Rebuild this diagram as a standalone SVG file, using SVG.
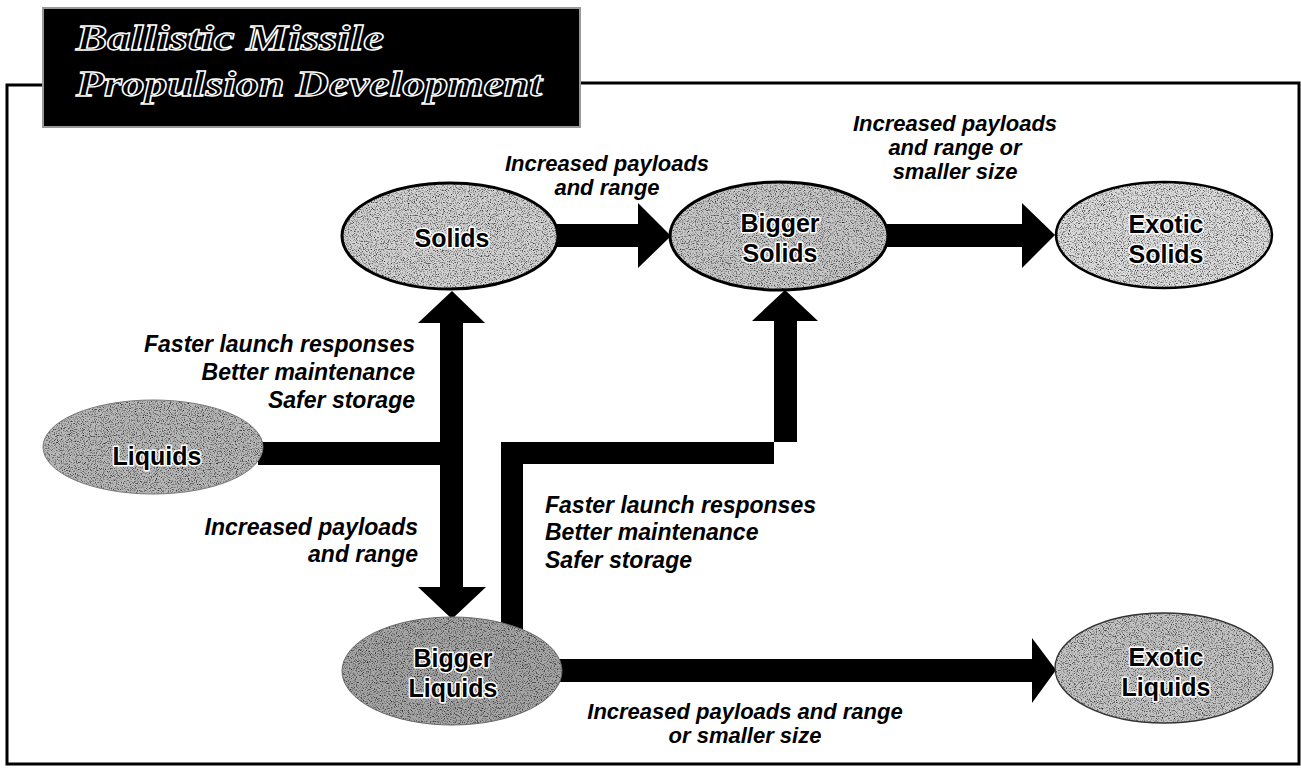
<svg xmlns="http://www.w3.org/2000/svg" width="1301" height="778" viewBox="0 0 1301 778">
<defs>
<filter id="grain" x="0" y="0" width="100%" height="100%" color-interpolation-filters="sRGB">
<feTurbulence type="fractalNoise" baseFrequency="0.85" numOctaves="2" seed="7" result="n"/>
<feColorMatrix in="n" type="matrix" values="2.2 0 0 0 -0.15  2.2 0 0 0 -0.15  2.2 0 0 0 -0.15  0 0 0 0 1" result="gn"/>
<feBlend in="SourceGraphic" in2="gn" mode="multiply" result="m"/>
<feComposite in="m" in2="SourceGraphic" operator="in"/>
</filter>
</defs>
<style>
.lbl{font-family:"Liberation Sans",Arial,sans-serif;font-weight:bold;font-style:italic;font-size:23px;fill:#000}
.lbs{font-family:"Liberation Sans",Arial,sans-serif;font-weight:bold;font-style:italic;font-size:22px;fill:#000}
.nt{font-family:"Liberation Sans",Arial,sans-serif;font-weight:bold;font-size:25px;fill:#000;stroke:#fff;stroke-width:3px;paint-order:stroke;stroke-linejoin:round;text-anchor:middle}
.title{font-family:"Liberation Serif","Times New Roman",serif;font-weight:bold;font-style:italic;font-size:36px;fill:#000;stroke:#fff;stroke-width:1.3px}
.conn{fill:#000;stroke:none}
.frame{fill:none;stroke:#000;stroke-width:3}
</style>
<rect width="1301" height="778" fill="#fff"/>
<path class="frame" d="M43,85 L7,85 L7,764 L1299,764 L1299,83 L580,83"/>
<g id="title">
<rect x="43" y="8" width="537" height="119" fill="#000" stroke="#999" stroke-width="2"/>
<text class="title" x="76" y="50" textLength="308" lengthAdjust="spacingAndGlyphs">Ballistic Missile</text>
<text class="title" x="76" y="96" textLength="466" lengthAdjust="spacingAndGlyphs">Propulsion Development</text>
</g>
<g id="connectors">
<polygon class="conn" points="556,224 638,224 638,203 671,236 638,268 638,247 556,247"/>
<polygon class="conn" points="885,224 1022,224 1022,203 1055,235 1022,268 1022,247 885,247"/>
<rect class="conn" x="258" y="442" width="205" height="23"/>
<rect class="conn" x="440" y="323" width="23" height="264"/>
<polygon class="conn" points="418,323 485,323 452,291"/>
<polygon class="conn" points="418,587 486,587 452,619"/>
<polygon class="conn" points="501,660 501,442 797,442 797,321 818,321 785,290 752,321 774,321 774,464 523,464 523,660"/>
<polygon class="conn" points="555,659 1032,659 1032,638 1056,670 1032,703 1032,682 555,682"/>
</g>
<g id="node-solids">
<ellipse cx="450" cy="236" rx="108" ry="53" fill="#d2d2d2" filter="url(#grain)"/>
<ellipse cx="450" cy="236" rx="108" ry="53" fill="none" stroke="#000" stroke-width="3"/>
<text class="nt" x="452" y="247">Solids</text>
</g>
<g id="node-bigger-solids">
<ellipse cx="779" cy="236" rx="109" ry="54" fill="#c8c8c8" filter="url(#grain)"/>
<ellipse cx="779" cy="236" rx="109" ry="54" fill="none" stroke="#000" stroke-width="3"/>
<text class="nt" x="780" y="232">Bigger</text>
<text class="nt" x="780" y="262">Solids</text>
</g>
<g id="node-exotic-solids">
<ellipse cx="1164" cy="235" rx="108" ry="53" fill="#dcdcdc" filter="url(#grain)"/>
<ellipse cx="1164" cy="235" rx="108" ry="53" fill="none" stroke="#000" stroke-width="2.5"/>
<text class="nt" x="1166" y="233">Exotic</text>
<text class="nt" x="1166" y="263">Solids</text>
</g>
<g id="node-liquids">
<ellipse cx="153" cy="447" rx="110" ry="47" fill="#b8b8b8" filter="url(#grain)"/>
<ellipse cx="153" cy="447" rx="110" ry="47" fill="none" stroke="#777" stroke-width="1"/>
<text class="nt" x="157" y="465">Liquids</text>
</g>
<g id="node-bigger-liquids">
<ellipse cx="452" cy="671" rx="110" ry="54" fill="#a6a6a6" filter="url(#grain)"/>
<ellipse cx="452" cy="671" rx="110" ry="54" fill="none" stroke="#666" stroke-width="1"/>
<text class="nt" x="453" y="667">Bigger</text>
<text class="nt" x="453" y="697">Liquids</text>
</g>
<g id="node-exotic-liquids">
<ellipse cx="1164" cy="668" rx="109" ry="55" fill="#c4c4c4" filter="url(#grain)"/>
<ellipse cx="1164" cy="668" rx="109" ry="55" fill="none" stroke="#333" stroke-width="1.3"/>
<text class="nt" x="1166" y="666">Exotic</text>
<text class="nt" x="1166" y="696">Liquids</text>
</g>
<g id="labels">
<text class="lbs" text-anchor="middle" x="607" y="171">Increased payloads</text>
<text class="lbs" text-anchor="middle" x="607" y="195">and range</text>
<text class="lbs" text-anchor="middle" x="955" y="131">Increased payloads</text>
<text class="lbs" text-anchor="middle" x="955" y="155">and range or</text>
<text class="lbs" text-anchor="middle" x="955" y="179">smaller size</text>
<text class="lbl" text-anchor="end" x="415" y="352">Faster launch responses</text>
<text class="lbl" text-anchor="end" x="415" y="380">Better maintenance</text>
<text class="lbl" text-anchor="end" x="415" y="408">Safer storage</text>
<text class="lbl" text-anchor="end" x="418" y="535">Increased payloads</text>
<text class="lbl" text-anchor="end" x="418" y="562">and range</text>
<text class="lbl" x="545" y="513">Faster launch responses</text>
<text class="lbl" x="545" y="540">Better maintenance</text>
<text class="lbl" x="545" y="568">Safer storage</text>
<text class="lbs" text-anchor="middle" x="745" y="719">Increased payloads and range</text>
<text class="lbs" text-anchor="middle" x="745" y="743">or smaller size</text>
</g>
</svg>
